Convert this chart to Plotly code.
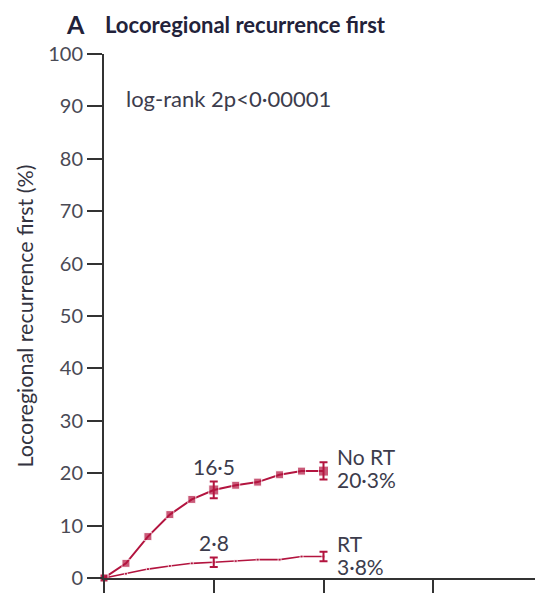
import plotly.graph_objects as go

years = [0, 1, 2, 3, 4, 5, 6, 7, 8, 9, 10]
no_rt = [0, 2.8, 7.9, 12.1, 15.0, 16.8, 17.7, 18.3, 19.7, 20.4, 20.4]
rt = [0, 0.8, 1.7, 2.3, 2.8, 3.0, 3.2, 3.5, 3.5, 4.1, 4.1]

err_years = [5, 10]
no_rt_err_y = [16.8, 20.4]
no_rt_err_up = [1.6, 1.7]
no_rt_err_dn = [1.6, 1.6]
rt_err_y = [3.0, 4.1]
rt_err_up = [0.9, 0.9]
rt_err_dn = [0.9, 0.9]

y_ticks = [0, 10, 20, 30, 40, 50, 60, 70, 80, 90, 100]
x_ticks = [0, 5, 10, 15, 20]

RED = "#b3143f"
TXT = "#3c3c4c"
FONT = "Lato"

fig = go.Figure()

fig.add_trace(go.Scatter(
    x=years, y=no_rt, mode="lines+markers",
    line=dict(color=RED, width=2),
    marker=dict(symbol="square", size=[8, 8, 8, 8, 8, 10, 8, 8, 8, 8, 10], color=RED),
    cliponaxis=False, showlegend=False,
))
fig.add_trace(go.Scatter(
    x=years, y=rt, mode="lines+markers",
    line=dict(color=RED, width=1.6),
    marker=dict(symbol="square", size=[8, 3, 3, 3, 3, 3, 3, 3, 3, 3, 3], color=RED),
    cliponaxis=False, showlegend=False,
))
fig.add_trace(go.Scatter(
    x=err_years, y=no_rt_err_y, mode="markers",
    marker=dict(size=1, color=RED, opacity=0),
    error_y=dict(type="data", symmetric=False, array=no_rt_err_up, arrayminus=no_rt_err_dn,
                 color=RED, thickness=2, width=4),
    showlegend=False, hoverinfo="skip",
))
fig.add_trace(go.Scatter(
    x=err_years, y=rt_err_y, mode="markers",
    marker=dict(size=1, color=RED, opacity=0),
    error_y=dict(type="data", symmetric=False, array=rt_err_up, arrayminus=rt_err_dn,
                 color=RED, thickness=2, width=4),
    showlegend=False, hoverinfo="skip",
))

ann = [
    dict(x=0.96, y=91.6, text="log-rank 2p<0·00001", xanchor="left", yanchor="middle", size=22),
    dict(x=5, y=21.3, text="16·5", xanchor="center", yanchor="middle", size=21),
    dict(x=5, y=6.8, text="2·8", xanchor="center", yanchor="middle", size=21),
    dict(x=10.55, y=20.6, text="No RT", xanchor="left", yanchor="bottom", size=21),
    dict(x=10.55, y=21.4, text="20·3%", xanchor="left", yanchor="top", size=21),
    dict(x=10.55, y=4.0, text="RT", xanchor="left", yanchor="bottom", size=21),
    dict(x=10.55, y=4.8, text="3·8%", xanchor="left", yanchor="top", size=21),
]
annotations = [
    dict(x=a["x"], y=a["y"], xref="x", yref="y", text=a["text"], showarrow=False,
         xanchor=a["xanchor"], yanchor=a["yanchor"], borderpad=0,
         font=dict(family=FONT, size=a["size"], color=TXT))
    for a in ann
]
annotations.append(dict(
    xref="paper", yref="paper", x=-0.089, y=1.0 + 46 / 524, xanchor="left", yanchor="top",
    text="<b>A</b>", showarrow=False, borderpad=0,
    font=dict(family=FONT, size=25, color="#22223a"),
))
annotations.append(dict(
    xref="paper", yref="paper", x=-0.003, y=1.0 + 30 / 524, xanchor="left", yanchor="middle",
    text="<b>Locoregional recurrence first</b>",
    showarrow=False, font=dict(family=FONT, size=22, color="#22223a"),
))

fig.update_layout(
    width=535, height=586,
    margin=dict(l=96, r=0, t=46, b=16),
    paper_bgcolor="white", plot_bgcolor="white",
    font=dict(family=FONT, color=TXT),
    annotations=annotations,
    xaxis=dict(
        range=[0, 20], tickvals=x_ticks, showticklabels=False,
        ticks="outside", ticklen=13, tickwidth=2, tickcolor="#333333",
        showline=True, linecolor="#333333", linewidth=2,
        showgrid=False, zeroline=False,
    ),
    yaxis=dict(
        range=[0, 100], tickvals=y_ticks, ticktext=[str(v) for v in y_ticks],
        ticks="outside", ticklen=15, tickwidth=2, tickcolor="#333333",
        showline=True, linecolor="#333333", linewidth=2,
        showgrid=False, zeroline=False,
        tickfont=dict(family=FONT, size=20, color="#4a4a55"),
        title=dict(text="Locoregional recurrence first (%)",
                   font=dict(family=FONT, size=21.5, color="#333340"), standoff=9),
    ),
)

fig.write_html("out.html")
